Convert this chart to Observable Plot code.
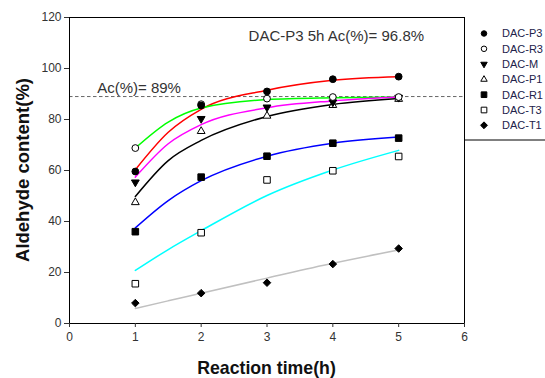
<!DOCTYPE html>
<html>
<head>
<meta charset="utf-8">
<script src="https://cdn.jsdelivr.net/npm/d3@7"></script>
<script src="https://cdn.jsdelivr.net/npm/@observablehq/plot@0.6"></script>
<style>
  html, body { margin: 0; padding: 0; background: #fff; }
  #chart { width: 545px; height: 378px; position: relative; }
  svg { font-family: "Liberation Sans", Arial, sans-serif; }
</style>
</head>
<body>
<div id="chart"></div>
<script>
// Measured aldehyde content (%) at each reaction time (h)
const hours = [1, 2, 3, 4, 5];
const dacP3 = [59.6, 85.5, 91.0, 95.8, 96.8];
const dacR3 = [68.8, 86.0, 88.2, 88.8, 88.8];
const dacM  = [55.4, 80.3, 84.8, 86.8, 88.6];
const dacP1 = [47.5, 75.4, 81.4, 85.6, 88.0];
const dacR1 = [36.0, 57.4, 65.6, 70.7, 72.7];
const dacT3 = [15.6, 35.6, 56.3, 59.9, 65.5];
const dacT1 = [8.0, 11.9, 16.0, 23.3, 29.4];

// Fitted trend curves
const fitHours = [1, 1.5, 2, 3, 4, 5];
const fitP3 = [60.3, 75.0, 84.0, 91.5, 95.4, 96.8];
const fitR3 = [68.8, 79.0, 84.5, 87.8, 88.5, 88.8];
const fitM  = [57.4, 70.5, 78.0, 84.6, 87.3, 88.8];
const fitP1 = [49.8, 63.9, 71.8, 81.2, 85.9, 88.2];
const fitR1 = [37.5, 48.2, 56.0, 65.6, 70.7, 73.1];
const fitT3 = [20.8, 29.0, 36.4, 50.2, 60.2, 67.9];
const fitT1 = [5.9, 8.9, 11.9, 17.8, 23.6, 28.8];

const seriesNames = ["DAC-P3", "DAC-R3", "DAC-M", "DAC-P1", "DAC-R1", "DAC-T3", "DAC-T1"];
const xTicks = [0, 1, 2, 3, 4, 5, 6];
const yTicks = [0, 20, 40, 60, 80, 100, 120];

// Reference level and notes
const acReference = 89;
const notes = [
  {x: 0.42, y: 92.1, text: "Ac(%)= 89%"},
  {x: 2.72, y: 112.8, text: "DAC-P3 5h Ac(%)= 96.8%"}
];

// Downward-pointing triangle symbol
const sqrt3 = Math.sqrt(3);
const triangleDown = {
  draw(ctx, size) {
    const y = -Math.sqrt(size / (sqrt3 * 3));
    ctx.moveTo(0, -y * 2);
    ctx.lineTo(-sqrt3 * y, y);
    ctx.lineTo(sqrt3 * y, y);
    ctx.closePath();
  }
};

const styles = [
  {values: dacP3, fit: fitP3, line: "#ff0000", symbol: "circle",   fill: "#000", r: 3.4},
  {values: dacR3, fit: fitR3, line: "#00ff00", symbol: "circle",   fill: "#fff", r: 3.4},
  {values: dacM,  fit: fitM,  line: "#ff00ff", symbol: triangleDown, fill: "#000", r: 2.9},
  {values: dacP1, fit: fitP1, line: "#000000", symbol: "triangle", fill: "#fff", r: 2.9},
  {values: dacR1, fit: fitR1, line: "#0000ff", symbol: "square",   fill: "#000", r: 3.7},
  {values: dacT3, fit: fitT3, line: "#00ffff", symbol: "square",   fill: "#fff", r: 3.7},
  {values: dacT1, fit: fitT1, line: "#c0c0c0", symbol: "diamond2", fill: "#000", r: 3.4}
];

const series = seriesNames.map((name, i) => ({
  name,
  ...styles[i],
  points: hours.map((h, j) => ({x: h, y: styles[i].values[j]})),
  curve: fitHours.map((h, j) => ({x: h, y: styles[i].fit[j]}))
}));

const curveMarks = series.map(s =>
  Plot.line(s.curve, {x: "x", y: "y", stroke: s.line, strokeWidth: 1.5, curve: "monotone-x"})
);
// markers drawn bottom-up so earlier series sit on top
const dotMarks = series.slice().reverse().map(s =>
  Plot.dot(s.points, {x: "x", y: "y", symbol: s.symbol, r: s.r, fill: s.fill, stroke: "#000", strokeWidth: 1})
);

const W = 545, H = 378, mL = 69, mR = 81, mT = 17, mB = 55;

const chart = Plot.plot({
  width: W,
  height: H,
  marginLeft: mL,
  marginRight: mR,
  marginTop: mT,
  marginBottom: mB,
  style: {background: "#fff", fontFamily: "Liberation Sans, Arial, sans-serif"},
  x: {domain: [0, 6]},
  y: {domain: [0, 120]},
  marks: [
    Plot.ruleY([acReference], {stroke: "#666", strokeWidth: 1, strokeDasharray: "3.5,2.5"}),
    ...curveMarks,
    ...dotMarks,
    Plot.frame({stroke: "#000", strokeWidth: 1}),
    Plot.axisX({ticks: xTicks, tickFormat: "d", tickSize: 4, tickPadding: 5, fontSize: 12, color: "#333", label: null}),
    Plot.axisY({ticks: yTicks, tickFormat: "d", tickSize: 5, tickPadding: 3, fontSize: 12, color: "#333", label: null}),
    Plot.text(notes, {x: "x", y: "y", text: "text", textAnchor: "start", fontSize: 15, fill: "#333"})
  ]
});

document.getElementById("chart").appendChild(chart);

const svg = d3.select(chart);

// Axis titles
svg.append("text")
  .attr("x", mL + (W - mL - mR) / 2).attr("y", H - 10)
  .attr("text-anchor", "middle").attr("dy", "0.35em")
  .attr("font-size", 17.7).attr("font-weight", "bold").attr("fill", "#111")
  .text("Reaction time(h)");
svg.append("text")
  .attr("transform", `translate(23,${mT + (H - mT - mB) / 2}) rotate(-90)`)
  .attr("text-anchor", "middle").attr("dy", "0.35em")
  .attr("font-size", 18.5).attr("font-weight", "bold").attr("fill", "#111")
  .text("Aldehyde content(%)");

// Legend panel at the right of the frame
const legend = svg.append("g").attr("transform", `translate(${W - mR},${mT})`);
legend.append("line")
  .attr("x1", 0).attr("x2", mR).attr("y1", 123).attr("y2", 123)
  .attr("stroke", "#000").attr("stroke-width", 1);
const legendSymbols = [d3.symbolCircle, d3.symbolCircle, triangleDown, d3.symbolTriangle, d3.symbolSquare, d3.symbolSquare, d3.symbolDiamond2];
const legendSizes = [24, 24, 18, 18, 32, 32, 30];
series.forEach((s, i) => {
  const row = legend.append("g").attr("transform", `translate(0,${16.5 + i * 15.3})`);
  row.append("path")
    .attr("transform", "translate(20,0)")
    .attr("d", d3.symbol(legendSymbols[i], legendSizes[i])())
    .attr("fill", s.fill).attr("stroke", "#000").attr("stroke-width", 1);
  row.append("text")
    .attr("x", 38).attr("y", 0).attr("dy", "0.35em")
    .attr("text-anchor", "start")
    .attr("font-size", 11).attr("fill", "#22224a")
    .text(s.name);
});
</script>
</body>
</html>
